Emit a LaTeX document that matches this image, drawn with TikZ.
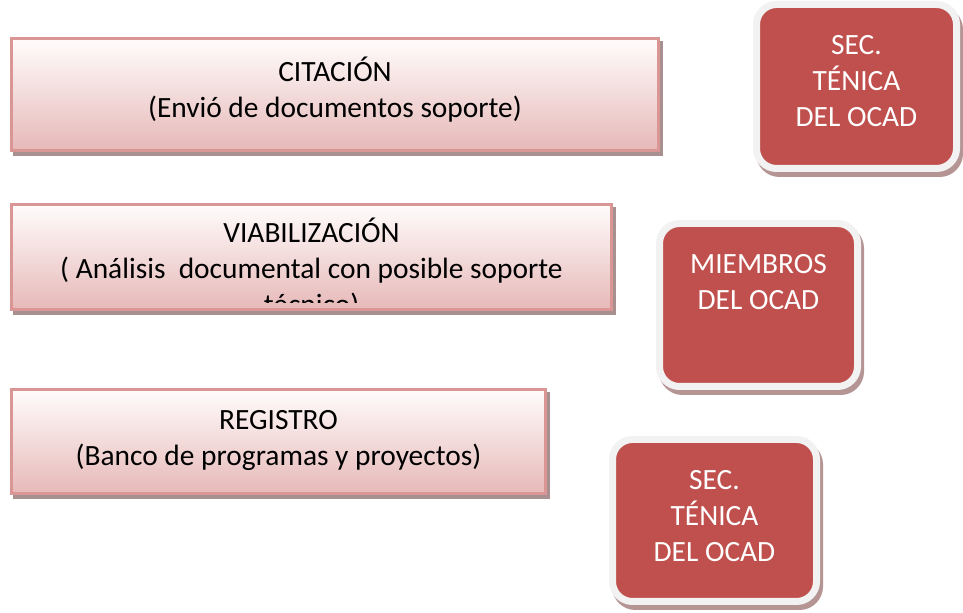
\documentclass[tikz,border=0pt]{standalone}
\usepackage{fontspec}
\setmainfont{Carlito}
\usetikzlibrary{shadows}
\definecolor{stagetop}{HTML}{FFFCFC}
\definecolor{stagebot}{HTML}{E6B9B8}
\definecolor{stageline}{HTML}{D99694}
\definecolor{stageshadow}{HTML}{A99090}
\definecolor{ocadred}{HTML}{C0504D}
\definecolor{ocadframe}{HTML}{F2F2F2}
\definecolor{ocadshadow}{HTML}{B59494}
\begin{document}
\begin{tikzpicture}[x=0.5pt,y=-0.5pt,
    stage/.style={draw=stageline, line width=1.5pt, top color=stagetop, bottom color=stagebot, inner sep=0pt,
      drop shadow={shadow xshift=1.25pt, shadow yshift=-2pt, fill=stageshadow, draw=stageshadow, line width=1.5pt, opacity=1}},
    stagetext/.style={align=center, inner sep=0pt, font=\fontsize{14.7}{18}\selectfont},
    ocad/.style={fill=ocadred, draw=ocadframe, line width=3.5pt, rounded corners=10pt, inner sep=0pt,
      drop shadow={shadow xshift=1.5pt, shadow yshift=-2.5pt, fill=ocadshadow, draw=ocadshadow, line width=3.5pt, opacity=1}},
    ocadtext/.style={anchor=north, align=center, text=white, inner sep=0pt, font=\fontsize{14.7}{18}\selectfont}]
  \useasboundingbox (0,0) rectangle (963,613);

  % stages on the left
  \node[stage, minimum width=323.5pt, minimum height=56pt] (citacion) at (335,94.5) {};
  \node[stagetext, yshift=2.5pt] (citaciontext) at (citacion) {CITACIÓN\\(Envió de documentos soporte)};
  \node[stage, minimum width=300pt, minimum height=52.5pt] (viabilizacion) at (311.5,257) {};
  \begin{scope}
    \clip (11.5,204.5) rectangle (611.5,303); % third line is cut by the box
    \node[stagetext, yshift=-5.5pt] (viabtext) at (viabilizacion)
      {VIABILIZACIÓN\\( Análisis\ \ documental con posible soporte\\técnico)};
  \end{scope}
  \node[stage, minimum width=267pt, minimum height=52pt] (registro) at (278.5,441.5) {};
  \node[stagetext, yshift=0.5pt] (registrotext) at (registro) {REGISTRO\\(Banco de programas y proyectos)};

  % who is in charge
  \node[ocad, minimum width=100pt, minimum height=82pt] (secA) at (856.5,86.5) {};
  \node[ocad, minimum width=99pt, minimum height=81.5pt] (miembros) at (758.5,305) {};
  \node[ocad, minimum width=102pt, minimum height=81pt] (secB) at (714.5,520.5) {};
  \node[ocadtext] (secAtext) at (856.5,35) {SEC.\\TÉNICA\\DEL OCAD};
  \node[ocadtext] (miembrostext) at (758.5,254) {MIEMBROS\\DEL OCAD};
  \node[ocadtext] (secBtext) at (714.5,470) {SEC.\\TÉNICA\\DEL OCAD};
\end{tikzpicture}
\end{document}
